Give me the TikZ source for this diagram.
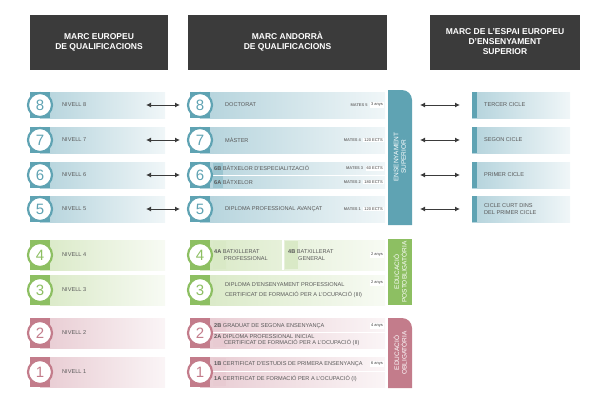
\documentclass[tikz,border=0pt]{standalone}
\usepackage{fontspec}
\setmainfont{Liberation Sans}
\usetikzlibrary{arrows.meta}
\definecolor{fosc}{HTML}{3B3B3B}
\definecolor{blau}{HTML}{5FA3B3}
\definecolor{blauc}{HTML}{B4D3DC}
\definecolor{verd}{HTML}{8DBF62}
\definecolor{verdc}{HTML}{D9E9C6}
\definecolor{rosa}{HTML}{C37C8B}
\definecolor{rosac}{HTML}{E8CBD2}
\tikzset{
  capsal/.style={fill=fosc,text=white,font=\bfseries\fontsize{8.5}{10}\selectfont,align=center,inner sep=0},
  txt/.style={font=\fontsize{5.6}{6.6}\selectfont,text=fosc!85,anchor=west,align=left,inner sep=0},
  tag/.style={fill=white,font=\fontsize{4}{4.5}\selectfont,text=fosc,inner sep=1pt},
  mat/.style={font=\bfseries\fontsize{4}{4.5}\selectfont,text=fosc!70,inner sep=0,anchor=east},
  num/.style={circle,draw=#1,line width=2.2pt,fill=white,minimum size=24pt,inner sep=0,text=#1,font=\fontsize{15}{15}\selectfont},
  fle/.style={{Latex[length=5pt,width=5pt]}-{Latex[length=5pt,width=5pt]},line width=1pt,fosc},
  vtab/.style={rotate=90,text=white,font=\fontsize{6.5}{7.5}\selectfont,align=center}
}
\newcommand{\barra}[5]{% x1, y1, x2, y2, colour
  \fill[left color=#5c,right color=#5c!20] (#1,#2) rectangle (#3,#4);}
\begin{document}
\begin{tikzpicture}[x=1pt,y=-1pt]
  \useasboundingbox (0,0) rectangle (600,400);

  %%%%%%%%%% Capcaleres %%%%%%%%%%
  \node[capsal,minimum width=138pt,minimum height=55pt] (h1) at (99,42) {MARC EUROPEU\\DE QUALIFICACIONS};
  \node[capsal,minimum width=199pt,minimum height=55pt] (h2) at (287.5,42) {MARC ANDORRÀ\\DE QUALIFICACIONS};
  \node[capsal,minimum width=150pt,minimum height=55pt] (h3) at (505,42) {MARC DE L'ESPAI EUROPEU\\D'ENSENYAMENT\\SUPERIOR};

  %%%%%%%%%% Columna europea %%%%%%%%%%
  \foreach \n/\y/\h/\c in {8/105/13/blau,7/140/13/blau,6/175/13/blau,5/209/13/blau,
                          4/255/15/verd,3/290/15/verd,2/333/15/rosa,1/372/15/rosa}{
    \barra{40}{\y-\h}{165}{\y+\h}{\c}
    \fill[\c] (30,\y-\h) rectangle (50,\y+\h);
    \node[num=\c] (E\n) at (40,\y) {\n};
    \node[txt] at (62,\y) {NIVELL \n};
  }

  %%%%%%%%%% Columna andorrana %%%%%%%%%%
  \foreach \n/\y/\h/\c in {8/105/13/blau,7/140/13/blau,6/175/13/blau,5/209/13/blau,
                          4/255/15/verd,3/290/15/verd,2/333/15/rosa,1/372/15/rosa}{
    \barra{200}{\y-\h}{385}{\y+\h}{\c}
    \fill[\c] (190,\y-\h) rectangle (210,\y+\h);
  }
  % subdivisions
  \fill[white] (213,175) rectangle (385,176);
  \fill[white] (213,332) rectangle (385,333);
  \fill[white] (213,371) rectangle (385,372);
  \fill[white] (282,240) rectangle (284,270);
  \foreach \y/\h in {168.5/6,182/6}
    \fill[blauc!70!blau] (213,\y-\h) rectangle (223,\y+\h);
  \fill[verdc] (213,241) rectangle (226,269);
  \fill[verdc] (285,241) rectangle (298,269);
  \foreach \y/\h in {326/5,340/7,364/6,379/7}
    \fill[rosac] (213,\y-\h) rectangle (226,\y+\h);

  \foreach \n/\y/\c in {8/105/blau,7/140/blau,6/175/blau,5/209/blau,4/255/verd,3/290/verd,2/333/rosa,1/372/rosa}
    \node[num=\c] (A\n) at (200,\y) {\n};

  \node[txt] at (225,105) {DOCTORAT};
  \node[txt] at (225,140) {MÀSTER};
  \node[txt] at (214,168.5) {\textbf{6B}\ BÀTXELOR D'ESPECIALITZACIÓ};
  \node[txt] at (214,182) {\textbf{6A}\ BÀTXELOR};
  \node[txt] at (225,209) {DIPLOMA PROFESSIONAL AVANÇAT};
  \node[txt] at (214,255) {\textbf{4A}\ BATXILLERAT\\\hspace{10pt}PROFESSIONAL};
  \node[txt] at (288,255) {\textbf{4B}\ BATXILLERAT\\\hspace{10pt}GENERAL};
  \node[txt] at (225,290) {DIPLOMA D'ENSENYAMENT PROFESSIONAL\\[3pt]CERTIFICAT DE FORMACIÓ PER A L'OCUPACIÓ (III)};
  \node[txt] at (214,326) {\textbf{2B}\ GRADUAT DE SEGONA ENSENYANÇA};
  \node[txt] at (214,340) {\textbf{2A}\ DIPLOMA PROFESSIONAL INICIAL\\\hspace{10pt}CERTIFICAT DE FORMACIÓ PER A L'OCUPACIÓ (II)};
  \node[txt] at (214,364) {\textbf{1B}\ CERTIFICAT D'ESTUDIS DE PRIMERA ENSENYANÇA};
  \node[txt] at (214,379) {\textbf{1A}\ CERTIFICAT DE FORMACIÓ PER A L'OCUPACIÓ (I)};

  % mates i durades
  \foreach \y/\m/\d in {105/5/3 anys,140/4/120 ECTS,168.5/3/60 ECTS,182/2/180 ECTS,209/1/120 ECTS}{
    \node[tag,anchor=east] (t) at (384,\y) {\d};
    \node[mat] at ([xshift=-2pt]t.west) {MATES \m};
  }
  \foreach \y/\d in {255/2 anys,283/2 anys,326/4 anys,364/6 anys}
    \node[tag,anchor=east] at (384,\y) {\d};

  %%%%%%%%%% Pestanyes verticals %%%%%%%%%%
  \fill[blau] (388,225) -- (388,90) [rounded corners=10pt] -- (412,90) [sharp corners] -- (412,225) -- cycle;
  \fill[verd] (388,239) rectangle (412,305);
  \fill[rosa] (388,388) -- (388,318) [rounded corners=10pt] -- (412,318) [sharp corners] -- (412,388) -- cycle;
  \node[vtab] (s1) at (400,157) {ENSENYAMENT\\SUPERIOR};
  \node[vtab] (s2) at (400,272) {EDUCACIÓ\\POSTOBLIGATÒRIA};
  \node[vtab] (s3) at (400,353) {EDUCACIÓ\\OBLIGATÒRIA};

  %%%%%%%%%% Columna EEES %%%%%%%%%%
  \foreach \n/\y/\t in {8/105/TERCER CICLE,7/140/SEGON CICLE,6/175/PRIMER CICLE,5/209/CICLE CURT DINS\\DEL PRIMER CICLE}{
    \barra{472}{\y-13}{570}{\y+13}{blau}
    \fill[blau] (472,\y-13) rectangle (477,\y+13);
    \node[txt] (B\n) at (484,\y) {\t};
    \coordinate (p\n) at (460,\y);
    \coordinate (q\n) at (420,\y);
    \coordinate (r\n) at (146,\y);
    \coordinate (s\n) at (180,\y);
    \draw[fle] (r\n) -- (s\n);
    \draw[fle] (q\n) -- (p\n);
  }
\end{tikzpicture}
\end{document}
